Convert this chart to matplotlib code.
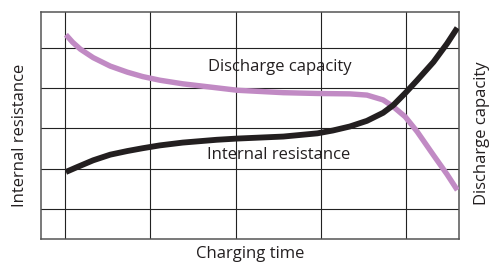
import numpy as np
import matplotlib.pyplot as plt

# values, in grid units (gridlines at 1..5)
time_cap = [1.01, 1.09, 1.18, 1.33, 1.53, 1.73, 1.91, 2.11, 2.38, 2.78, 3.02, 3.56, 3.96,
            4.34, 4.54, 4.73, 4.85, 4.99, 5.13, 5.32, 5.48, 5.60]
capacity = [5.33, 5.14, 4.97, 4.76, 4.55, 4.40, 4.29, 4.20, 4.11, 4.01, 3.95, 3.89, 3.87,
            3.86, 3.83, 3.71, 3.54, 3.29, 2.92, 2.34, 1.86, 1.47]

time_res = [1.01, 1.14, 1.33, 1.53, 1.73, 1.91, 2.11, 2.38, 2.78, 3.02, 3.56, 3.96, 4.14,
            4.34, 4.54, 4.73, 4.85, 4.99, 5.13, 5.32, 5.48, 5.60]
resistance = [1.92, 2.04, 2.21, 2.35, 2.44, 2.51, 2.58, 2.65, 2.72, 2.75, 2.80, 2.88, 2.95,
              3.05, 3.19, 3.39, 3.58, 3.88, 4.20, 4.65, 5.11, 5.50]

grid_pos = [1, 2, 3, 4, 5]

plt.rcParams['font.family'] = ['Open Sans', 'DejaVu Sans']

fig = plt.figure(figsize=(4.9, 2.64), dpi=100)
ax = fig.add_axes([41/490, 1-239/264, 418/490, 227/264])

for g in grid_pos:
    ax.axvline(g, color='#222222', lw=0.8, zorder=1)
    ax.axhline(g, color='#222222', lw=0.8, zorder=1)

ax.plot(time_cap, capacity, color='#c18ac4', lw=3.9, solid_capstyle='butt', solid_joinstyle='round', zorder=3)
ax.plot(time_res, resistance, color='#231f20', lw=4.2, solid_capstyle='butt', solid_joinstyle='round', zorder=4)

ax.text(3.52, 4.53, 'Discharge capacity', ha='center', va='center', fontsize=12, color='#231f20')
ax.text(3.50, 2.34, 'Internal resistance', ha='center', va='center', fontsize=12, color='#231f20')

ax.set_xlim(0.718, 5.62)
ax.set_ylim(0.255, 5.894)
ax.set_xticks([])
ax.set_yticks([])
for s in ax.spines.values():
    s.set_color('#555555')
    s.set_linewidth(1.1)

fig.text(20/490, 1-135/264, 'Internal resistance', rotation=90, ha='center', va='center', fontsize=12, color='#231f20')
fig.text(482/490, 1-133/264, 'Discharge capacity', rotation=90, ha='center', va='center', fontsize=12, color='#231f20')
fig.text(250/490, 1-254/264, 'Charging time', ha='center', va='center', fontsize=12, color='#231f20')

fig.savefig('out.png', dpi=100)
